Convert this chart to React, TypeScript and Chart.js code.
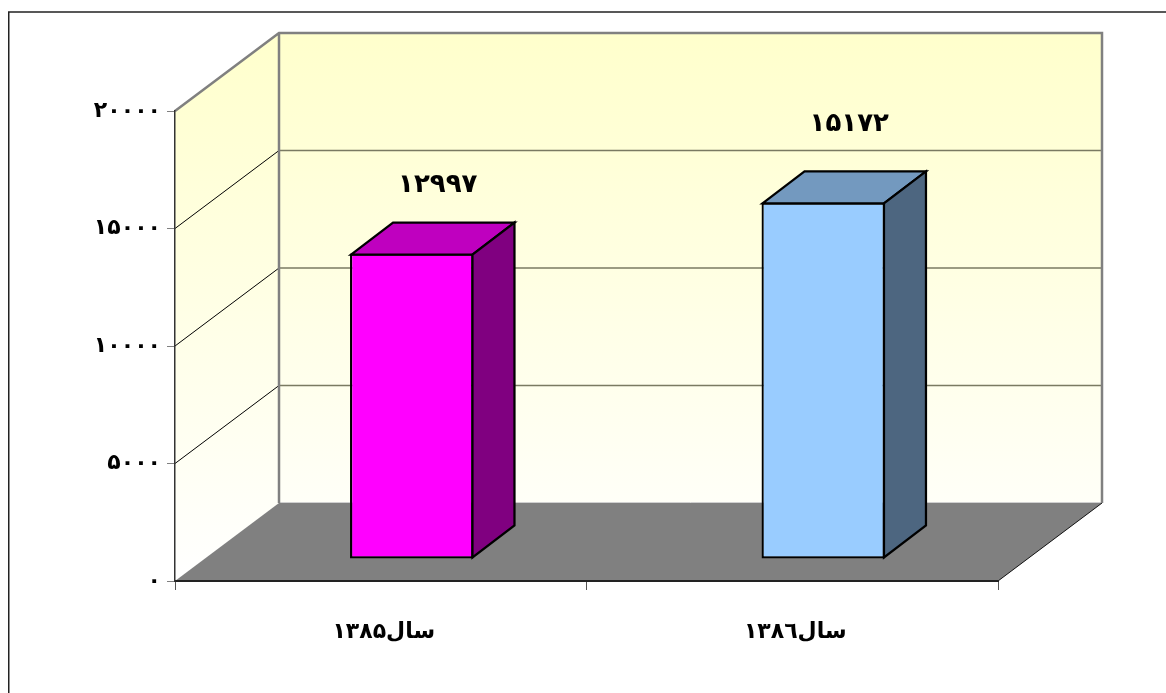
import React, { useEffect, useRef } from "react";
import { Chart, registerables } from "chart.js";

Chart.register(...registerables);

const categories = ["سال۱۳۸۵", "سال۱۳۸٦"];
const values = [12997, 15172];
const valueLabels = ["۱۲۹۹۷", "۱۵۱۷۲"];
const tickLabels: Record<number, string> = {
  0: "۰",
  5000: "۵۰۰۰",
  10000: "۱۰۰۰۰",
  15000: "۱۵۰۰۰",
  20000: "۲۰۰۰۰",
};
const frontColors = ["#FF00FF", "#99CCFF"];
const topColors = ["#BF00BF", "#7399BF"];
const sideColors = ["#800080", "#4D6680"];

const FONT = '"DejaVu Sans"';
const WALL_DX = 104;
const WALL_DY = -78;
const BAR_DX = 31;
const BAR_DY = -22;
const DEPTH_DX = 42;
const DEPTH_DY = -32;
const LABEL_RISE = [69, 79];

const walls = {
  id: "walls3d",
  beforeDraw(chart: any) {
    const { ctx, chartArea: a, scales } = chart;
    const y = scales.y;
    ctx.save();
    ctx.fillStyle = "#FFFFFF";
    ctx.fillRect(0, 0, chart.width, chart.height);
    ctx.strokeStyle = "#222222";
    ctx.lineWidth = 1.5;
    ctx.beginPath();
    ctx.moveTo(8.75, chart.height);
    ctx.lineTo(8.75, 12);
    ctx.lineTo(chart.width, 12);
    ctx.stroke();

    const grad = ctx.createLinearGradient(0, a.top + WALL_DY, 0, a.bottom);
    grad.addColorStop(0, "#FFFFCC");
    grad.addColorStop(1, "#FFFFFF");
    // side wall
    ctx.fillStyle = grad;
    ctx.beginPath();
    ctx.moveTo(a.left, a.bottom);
    ctx.lineTo(a.left, a.top);
    ctx.lineTo(a.left + WALL_DX, a.top + WALL_DY);
    ctx.lineTo(a.left + WALL_DX, a.bottom + WALL_DY);
    ctx.closePath();
    ctx.fill();
    // back wall
    ctx.fillRect(a.left + WALL_DX, a.top + WALL_DY, a.width, a.height);
    // floor
    ctx.fillStyle = "#808080";
    ctx.beginPath();
    ctx.moveTo(a.left, a.bottom);
    ctx.lineTo(a.right, a.bottom);
    ctx.lineTo(a.right + WALL_DX, a.bottom + WALL_DY);
    ctx.lineTo(a.left + WALL_DX, a.bottom + WALL_DY);
    ctx.closePath();
    ctx.fill();
    ctx.strokeStyle = "#D0D0D0";
    ctx.lineWidth = 1;
    ctx.beginPath();
    ctx.moveTo(a.left + WALL_DX, a.bottom + WALL_DY - 0.5);
    ctx.lineTo(a.right + WALL_DX, a.bottom + WALL_DY - 0.5);
    ctx.stroke();
    ctx.strokeStyle = "#111111";
    ctx.lineWidth = 1;
    ctx.beginPath();
    ctx.moveTo(a.right, a.bottom);
    ctx.lineTo(a.right + WALL_DX, a.bottom + WALL_DY);
    ctx.stroke();

    // grid lines
    y.ticks.forEach((t: any) => {
      const py = y.getPixelForValue(t.value);
      if (t.value === 0 || t.value === y.max) return;
      ctx.strokeStyle = "#000000";
      ctx.lineWidth = 1;
      ctx.beginPath();
      ctx.moveTo(a.left, py);
      ctx.lineTo(a.left + WALL_DX, py + WALL_DY);
      ctx.stroke();
      ctx.strokeStyle = "#7A7A62";
      ctx.lineWidth = 1.5;
      ctx.beginPath();
      ctx.moveTo(a.left + WALL_DX, py + WALL_DY);
      ctx.lineTo(a.right + WALL_DX, py + WALL_DY);
      ctx.stroke();
    });

    // wall outlines
    ctx.strokeStyle = "#808080";
    ctx.lineWidth = 2.5;
    ctx.beginPath();
    ctx.moveTo(a.left, a.top);
    ctx.lineTo(a.left + WALL_DX, a.top + WALL_DY);
    ctx.lineTo(a.right + WALL_DX, a.top + WALL_DY);
    ctx.lineTo(a.right + WALL_DX, a.bottom + WALL_DY);
    ctx.moveTo(a.left + WALL_DX, a.top + WALL_DY);
    ctx.lineTo(a.left + WALL_DX, a.bottom + WALL_DY);
    ctx.stroke();
    ctx.restore();
  },
  beforeDatasetDraw(chart: any) {
    chart.ctx.save();
    chart.ctx.translate(BAR_DX, BAR_DY);
  },
  afterDatasetDraw(chart: any, args: any) {
    const { ctx } = chart;
    ctx.restore();
    const meta = chart.getDatasetMeta(args.index);
    ctx.save();
    ctx.strokeStyle = "#000000";
    ctx.lineWidth = 2.25;
    ctx.lineJoin = "miter";
    meta.data.forEach((bar: any, i: number) => {
      const l = bar.x - bar.width / 2 + BAR_DX + 1;
      const r = bar.x + bar.width / 2 + BAR_DX - 1;
      const t = bar.y + BAR_DY + 1;
      const b = bar.base + BAR_DY - 1;
      ctx.fillStyle = topColors[i];
      ctx.beginPath();
      ctx.moveTo(l, t);
      ctx.lineTo(l + DEPTH_DX, t + DEPTH_DY);
      ctx.lineTo(r + DEPTH_DX, t + DEPTH_DY);
      ctx.lineTo(r, t);
      ctx.closePath();
      ctx.fill();
      ctx.stroke();
      ctx.fillStyle = sideColors[i];
      ctx.beginPath();
      ctx.moveTo(r, t);
      ctx.lineTo(r + DEPTH_DX, t + DEPTH_DY);
      ctx.lineTo(r + DEPTH_DX, b + DEPTH_DY);
      ctx.lineTo(r, b);
      ctx.closePath();
      ctx.fill();
      ctx.stroke();
      ctx.fillStyle = "#000000";
      ctx.font = `bold 26px ${FONT}`;
      ctx.textAlign = "center";
      ctx.textBaseline = "middle";
      ctx.fillText(valueLabels[i], bar.x + BAR_DX + 26, t - LABEL_RISE[i]);
    });
    ctx.restore();
  },
};

export default function App() {
  const ref = useRef<HTMLCanvasElement>(null);
  useEffect(() => {
    document.body.style.margin = "0";
    const chart = new Chart(ref.current as HTMLCanvasElement, {
      type: "bar",
      data: {
        labels: categories,
        datasets: [
          {
            data: values,
            backgroundColor: frontColors,
            borderColor: "#000000",
            borderWidth: 2.25,
            borderSkipped: false,
            barPercentage: 0.3,
            categoryPercentage: 1,
          },
        ],
      },
      plugins: [walls],
      options: {
        responsive: false,
        animation: false,
        devicePixelRatio: 1,
        layout: { padding: { top: 111, right: 168, left: 0, bottom: 0 } },
        plugins: { legend: { display: false }, tooltip: { enabled: false } },
        scales: {
          x: {
            offset: true,
            afterFit(s: any) {
              s.height = 112;
            },
            grid: {
              offset: true,
              drawOnChartArea: false,
              tickLength: 9,
              tickColor: "#555555",
            },
            border: { color: "#222222", width: 2 },
            ticks: {
              color: "#000000",
              padding: 29,
              labelOffset: 3,
              maxRotation: 0,
              font: { family: FONT, weight: "bold", size: 22 },
            },
          },
          y: {
            min: 0,
            max: 20000,
            afterFit(s: any) {
              s.width = 175;
            },
            grid: {
              drawOnChartArea: false,
              tickLength: 8,
              tickColor: "#808080",
            },
            border: { color: "#333333", width: 1.5 },
            ticks: {
              stepSize: 5000,
              color: "#000000",
              padding: 6,
              font: { family: FONT, weight: "bold", size: 22 },
              callback: (v: any) => tickLabels[v as number],
            },
          },
        },
      },
    } as any);
    return () => chart.destroy();
  }, []);
  return <canvas ref={ref} width={1166} height={693} style={{ display: "block" }} />;
}
